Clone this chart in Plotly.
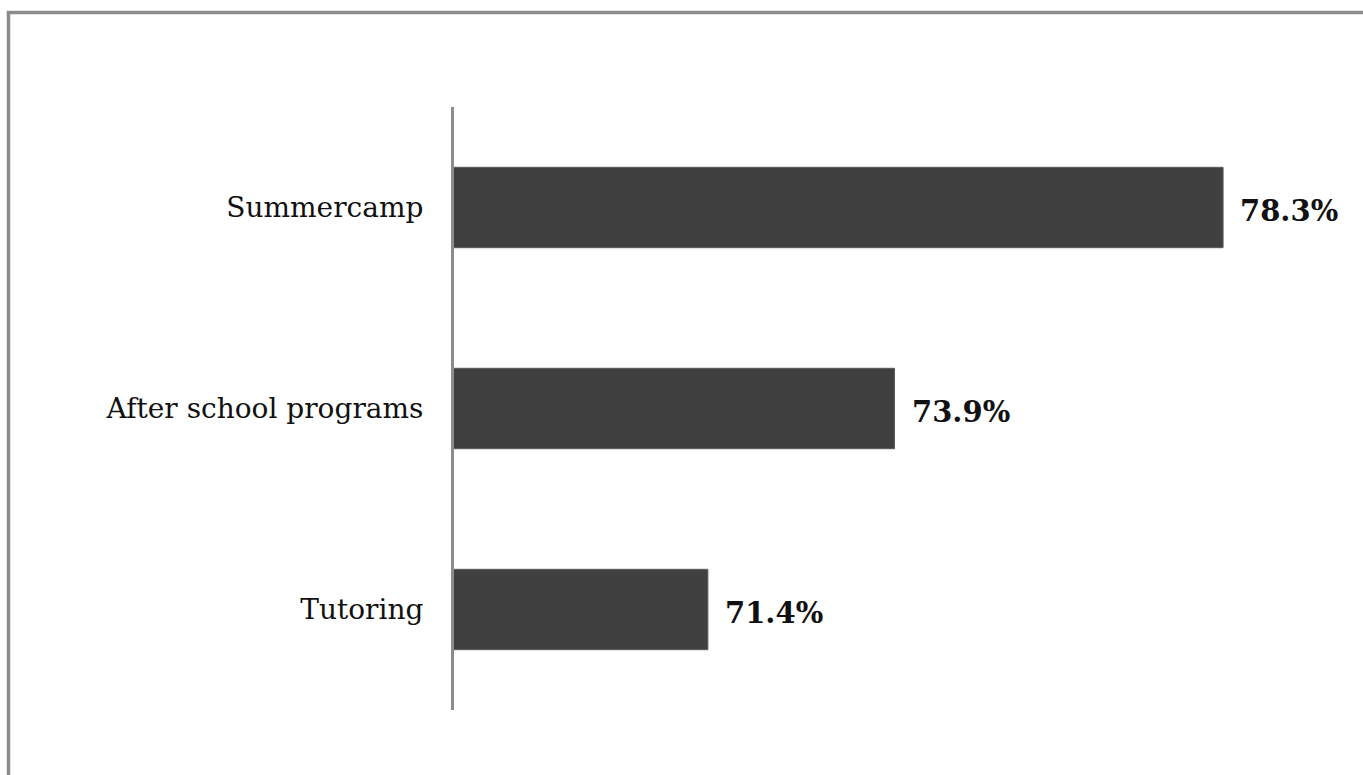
import plotly.graph_objects as go

categories = ["Summercamp", "After school programs", "Tutoring"]
values = [78.3, 73.9, 71.4]
value_labels = ["78.3%", "73.9%", "71.4%"]

W, H = 1363, 775
ML, MR, MT, MB = 454, 13, 107, 65
PW, PH = W - ML - MR, H - MT - MB

BAR = "#404040"
FRAME = "#8c8c8c"
SERIF = "DejaVu Serif, Georgia, serif"


def px_x(p):
    return (p - ML) / PW


def px_y(p):
    return (H - MB - p) / PH


fig = go.Figure(
    go.Bar(
        x=values,
        y=categories,
        orientation="h",
        marker=dict(color=BAR, line=dict(color="#5a5a5a", width=1)),
        width=0.4,
        hoverinfo="skip",
    )
)

for cat, val, lab in zip(categories, values, value_labels):
    fig.add_annotation(
        x=val, y=cat, text=f"<b>{lab}</b>", showarrow=False,
        xanchor="left", yanchor="middle", xshift=15, yshift=-3,
        font=dict(family=SERIF, size=29, color="#111111"),
    )

# outer frame: top and left edges only
fig.add_shape(type="line", xref="paper", yref="paper",
              x0=px_x(7), x1=px_x(W), y0=px_y(12.5), y1=px_y(12.5),
              line=dict(color=FRAME, width=3.5))
fig.add_shape(type="line", xref="paper", yref="paper",
              x0=px_x(8.5), x1=px_x(8.5), y0=px_y(11), y1=px_y(H),
              line=dict(color=FRAME, width=3.5))

fig.update_layout(
    width=W, height=H,
    margin=dict(l=ML, r=MR, t=MT, b=MB),
    paper_bgcolor="white", plot_bgcolor="white",
    showlegend=False,
    xaxis=dict(range=[68, 80], visible=False, fixedrange=True),
    yaxis=dict(
        autorange="reversed", showgrid=False, zeroline=False,
        showline=True, linecolor=FRAME, linewidth=3,
        ticks="", ticklabelstandoff=22,
        tickfont=dict(family=SERIF, size=28, color="#111111"),
        fixedrange=True,
    ),
)

fig.write_html("out.html")
